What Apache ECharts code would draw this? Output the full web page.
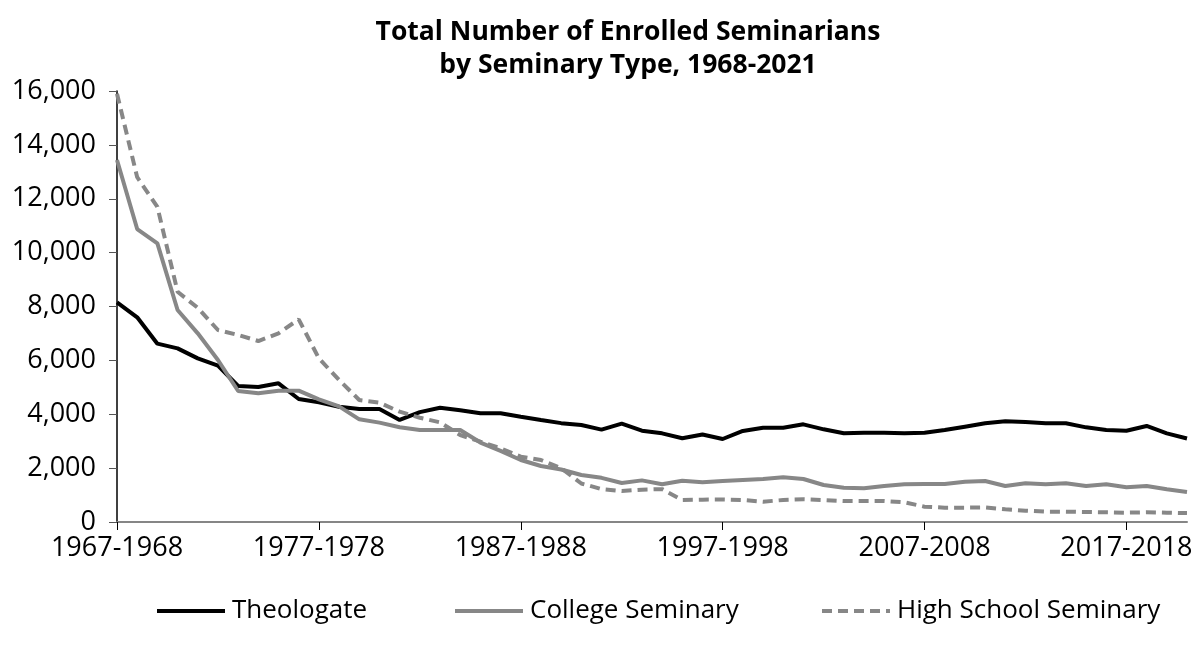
<!DOCTYPE html>
<html>
<head>
<meta charset="utf-8">
<script src="https://cdn.jsdelivr.net/npm/echarts@6/dist/echarts.min.js"></script>
<style>
html,body{margin:0;padding:0;background:#fff;}
#chart{width:1199px;height:666px;}
</style>
</head>
<body>
<div id="chart"></div>
<script>
var categories = [];
for (var y = 1967; y <= 2020; y++) { categories.push(y + '-' + (y + 1)); }

var theologate = [8155,7600,6620,6446,6075,5803,5048,5011,5148,4566,
  4443,4280,4195,4195,3790,4080,4240,4150,4035,4035,
  3909,3786,3670,3600,3430,3650,3390,3292,3107,3250,
  3081,3380,3500,3501,3626,3440,3292,3316,3316,3292,
  3316,3415,3539,3663,3737,3712,3663,3663,3514,3415,
  3390,3564,3292,3100];

var college = [13437,10876,10345,7870,7004,6013,4863,4776,4874,4874,
  4554,4290,3812,3690,3520,3415,3415,3415,2950,2640,
  2301,2079,1950,1745,1640,1450,1545,1400,1530,1475,
  1520,1560,1600,1659,1596,1373,1274,1251,1336,1398,
  1411,1411,1496,1522,1336,1436,1398,1436,1336,1398,
  1287,1336,1213,1114];

var highSchool = [15900,12800,11700,8549,7950,7127,6941,6719,7004,7524,
  6075,5271,4529,4429,4095,3870,3700,3229,2981,2735,
  2424,2301,2000,1430,1220,1151,1200,1220,817,830,
  835,817,754,817,842,817,780,780,780,730,
  569,532,532,540,470,421,384,384,371,359,
  346,359,346,330];

var seriesNames = ['Theologate', 'College Seminary', 'High School Seminary'];
var titleLines = ['Total Number of Enrolled Seminarians', 'by Seminary Type, 1968-2021'];

var FONT = '"Open Sans", "Liberation Sans", sans-serif';
var chart = echarts.init(document.getElementById('chart'));

function legendAt(name, left) {
  return {
    data: [name], left: left, top: 593, itemWidth: 68, itemHeight: 14, itemGap: 0,
    textStyle: { fontFamily: FONT, fontSize: 26, color: '#000', padding: [0,0,0,2] },
    itemStyle: { color: 'rgba(0,0,0,0)', borderWidth: 0, opacity: 0 },
    lineStyle: { width: 4 },
    selectedMode: false
  };
}

chart.setOption({
  animation: false,
  backgroundColor: '#fff',
  title: {
    text: titleLines.join('\n'),
    left: 623, top: 11, textAlign: 'center',
    textStyle: { fontFamily: FONT, fontSize: 26.5, fontWeight: 'bold', color: '#000', lineHeight: 33 }
  },
  legend: [legendAt(seriesNames[0], 150), legendAt(seriesNames[1], 448), legendAt(seriesNames[2], 815)],
  grid: { left: 117, right: 12, top: 91, bottom: 144, containLabel: false },
  xAxis: {
    type: 'category', data: categories, boundaryGap: false,
    axisLine: { lineStyle: { color: '#868686', width: 2 } },
    axisTick: { interval: 9, length: 8, lineStyle: { color: '#000', width: 1 } },
    axisLabel: { interval: 9, fontFamily: FONT, fontSize: 27, color: '#000', margin: 13 },
    splitLine: { show: false }
  },
  yAxis: {
    type: 'value', min: 0, max: 16000, interval: 2000,
    axisLine: { show: true, lineStyle: { color: '#000', width: 1.5 } },
    axisTick: { show: true, length: 8, lineStyle: { color: '#555' } },
    axisLabel: { fontFamily: FONT, fontSize: 27, color: '#000', margin: 21,
      formatter: function (v) { return v.toLocaleString('en-US'); } },
    splitLine: { show: false }
  },
  series: [
    { name: seriesNames[0], type: 'line', data: theologate, symbol: 'none',
      lineStyle: { color: '#000', width: 4 }, itemStyle: { color: '#000' } },
    { name: seriesNames[1], type: 'line', data: college, symbol: 'none',
      lineStyle: { color: '#878787', width: 4 }, itemStyle: { color: '#878787' } },
    { name: seriesNames[2], type: 'line', data: highSchool, symbol: 'none',
      lineStyle: { color: '#878787', width: 4, type: [10, 6] }, itemStyle: { color: '#878787' } }
  ]
});
</script>
</body>
</html>
